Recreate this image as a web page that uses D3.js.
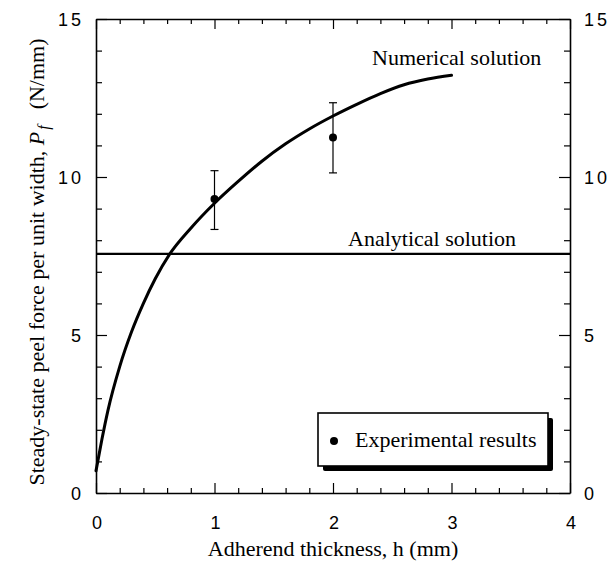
<!DOCTYPE html>
<html>
<head>
<meta charset="utf-8">
<script src="https://cdn.jsdelivr.net/npm/d3@7"></script>
<style>
  html, body { margin: 0; padding: 0; background: #fff; }
  svg { display: block; }
  .serif { font-family: "Liberation Serif", "Times New Roman", serif; }
  .sans { font-family: "Liberation Sans", Arial, sans-serif; }
</style>
</head>
<body>
<svg id="chart" width="616" height="576"></svg>
<script>
// Numerical solution: steady-state peel force vs adherend thickness
const numH = [0, 0.05, 0.1, 0.2, 0.3, 0.4, 0.5, 0.62, 0.8, 1.0, 1.2, 1.4, 1.6, 1.8, 2.0, 2.2, 2.4, 2.6, 2.8, 3.0];
const numP = [0.7, 1.7, 2.6, 4.0, 5.1, 6.0, 6.78, 7.55, 8.38, 9.17, 9.86, 10.5, 11.05, 11.52, 11.93, 12.3, 12.64, 12.92, 13.1, 13.22];

// Analytical solution (constant)
const analyticalP = 7.57;

// Experimental results with error bars
const expH = [1, 2];
const expP = [9.3, 11.25];
const expLow = [8.34, 10.13];
const expHigh = [10.2, 12.35];

// Axis ticks
const xTicks = [0, 1, 2, 3, 4];
const yTicks = [0, 5, 10, 15];

const margin = { left: 96, top: 19, right: 46, bottom: 83 };
const W = 616, H = 576;
const iw = W - margin.left - margin.right;
const ih = H - margin.top - margin.bottom;

const svg = d3.select("#chart");
const g = svg.append("g").attr("transform", `translate(${margin.left},${margin.top})`);

const x = d3.scaleLinear().domain([0, 4]).range([0, iw]);
const y = d3.scaleLinear().domain([0, 15]).range([ih, 0]);

// Frame axes with inward ticks
function styleAxis(sel) {
  sel.select(".domain").attr("stroke", "#000").attr("stroke-width", 1.6);
  sel.selectAll(".tick line").attr("stroke", "#000").attr("stroke-width", 1.2);
}
function styleMinor(sel) {
  sel.select(".domain").remove();
  sel.selectAll(".tick line").attr("stroke", "#000").attr("stroke-width", 1.2);
}

const minorX = d3.range(0, 4.001, 0.2).filter(v => Math.abs(v - Math.round(v)) > 1e-6);
const minorY = d3.range(0, 15.001, 1).filter(v => v % 5 !== 0);

// bottom
g.append("g").attr("transform", `translate(0,${ih})`)
  .call(d3.axisBottom(x).tickValues(xTicks).tickSize(-10).tickSizeOuter(0).tickFormat(""))
  .call(styleAxis);
g.append("g").attr("transform", `translate(0,${ih})`)
  .call(d3.axisBottom(x).tickValues(minorX).tickSize(-5).tickSizeOuter(0).tickFormat(""))
  .call(styleMinor);
// top
g.append("g")
  .call(d3.axisTop(x).tickValues(xTicks).tickSize(-10).tickSizeOuter(0).tickFormat(""))
  .call(styleAxis);
g.append("g")
  .call(d3.axisTop(x).tickValues(minorX).tickSize(-5).tickSizeOuter(0).tickFormat(""))
  .call(styleMinor);
// left
g.append("g")
  .call(d3.axisLeft(y).tickValues(yTicks).tickSize(-11).tickSizeOuter(0).tickFormat(""))
  .call(styleAxis);
g.append("g")
  .call(d3.axisLeft(y).tickValues(minorY).tickSize(-6).tickSizeOuter(0).tickFormat(""))
  .call(styleMinor);
// right
g.append("g").attr("transform", `translate(${iw},0)`)
  .call(d3.axisRight(y).tickValues(yTicks).tickSize(-11).tickSizeOuter(0).tickFormat(""))
  .call(styleAxis);
g.append("g").attr("transform", `translate(${iw},0)`)
  .call(d3.axisRight(y).tickValues(minorY).tickSize(-6).tickSizeOuter(0).tickFormat(""))
  .call(styleMinor);

// Tick labels
const lblFont = 18;
g.selectAll(".xlbl").data(xTicks).join("text")
  .attr("class", "sans").attr("x", d => x(d) + 1).attr("y", ih + 36)
  .attr("text-anchor", "middle").attr("font-size", lblFont)
  .text(d => d);
g.selectAll(".ylbl").data(yTicks).join("text")
  .attr("class", "sans").attr("x", -12).attr("y", d => y(d) + 7)
  .attr("text-anchor", "end").attr("font-size", lblFont).attr("letter-spacing", 3)
  .text(d => d);
g.selectAll(".yrlbl").data(yTicks).join("text")
  .attr("class", "sans").attr("x", iw + 14).attr("y", d => y(d) + 7)
  .attr("text-anchor", "start").attr("font-size", lblFont).attr("letter-spacing", 3)
  .text(d => d);

// Analytical solution line
g.append("line")
  .attr("x1", x(0)).attr("x2", x(4))
  .attr("y1", y(analyticalP)).attr("y2", y(analyticalP))
  .attr("stroke", "#000").attr("stroke-width", 2.2);

// Numerical curve
const line = d3.line().x(d => x(d[0])).y(d => y(d[1])).curve(d3.curveMonotoneX);
g.append("path")
  .datum(numH.map((h, i) => [h, numP[i]]))
  .attr("d", line)
  .attr("fill", "none").attr("stroke", "#000").attr("stroke-width", 3)
  .attr("stroke-linecap", "round");

// Experimental points with error bars
const exp = expH.map((h, i) => ({ h, p: expP[i], lo: expLow[i], hi: expHigh[i] }));
const eb = g.selectAll(".eb").data(exp).join("g");
eb.append("line").attr("x1", d => x(d.h)).attr("x2", d => x(d.h))
  .attr("y1", d => y(d.lo)).attr("y2", d => y(d.hi)).attr("stroke", "#000").attr("stroke-width", 1.2);
eb.append("line").attr("x1", d => x(d.h) - 4).attr("x2", d => x(d.h) + 4)
  .attr("y1", d => y(d.lo)).attr("y2", d => y(d.lo)).attr("stroke", "#000").attr("stroke-width", 1.2);
eb.append("line").attr("x1", d => x(d.h) - 4).attr("x2", d => x(d.h) + 4)
  .attr("y1", d => y(d.hi)).attr("y2", d => y(d.hi)).attr("stroke", "#000").attr("stroke-width", 1.2);
eb.append("circle").attr("cx", d => x(d.h)).attr("cy", d => y(d.p)).attr("r", 4).attr("fill", "#000");

// Curve labels
const txtFont = 22;
g.append("text").attr("class", "serif").attr("font-size", txtFont)
  .attr("x", 372 - margin.left).attr("y", 65 - margin.top).text("Numerical solution");
g.append("text").attr("class", "serif").attr("font-size", txtFont)
  .attr("x", 348 - margin.left).attr("y", 246 - margin.top).text("Analytical solution");

// Legend box with drop shadow
const lg = g.append("g").attr("transform", `translate(${318 - margin.left},${413 - margin.top})`);
const lw = 230, lh = 53;
lg.append("rect").attr("x", 5).attr("y", 5).attr("width", lw).attr("height", lh).attr("rx", 2).attr("fill", "#000");
lg.append("rect").attr("x", 0).attr("y", 0).attr("width", lw).attr("height", lh)
  .attr("fill", "#fff").attr("stroke", "#000").attr("stroke-width", 1.6);
lg.append("circle").attr("cx", 16).attr("cy", 28).attr("r", 4).attr("fill", "#000");
lg.append("text").attr("class", "serif").attr("font-size", txtFont)
  .attr("x", 37).attr("y", 34).text("Experimental results");

// Axis titles
svg.append("text").attr("class", "serif").attr("font-size", txtFont)
  .attr("x", margin.left + iw / 2).attr("y", 556).attr("text-anchor", "middle")
  .text("Adherend thickness, h (mm)");

const yt = svg.append("text").attr("class", "serif").attr("font-size", txtFont)
  .attr("transform", `translate(44,262) rotate(-90)`).attr("text-anchor", "middle");
yt.append("tspan").text("Steady-state peel force per unit width, ");
yt.append("tspan").attr("font-style", "italic").text("P");
yt.append("tspan").attr("font-style", "italic").attr("font-size", 16).attr("dy", 5).attr("dx", 2).text("f");
yt.append("tspan").attr("dy", -5).attr("dx", 16).text("(N/mm)");
</script>
</body>
</html>
